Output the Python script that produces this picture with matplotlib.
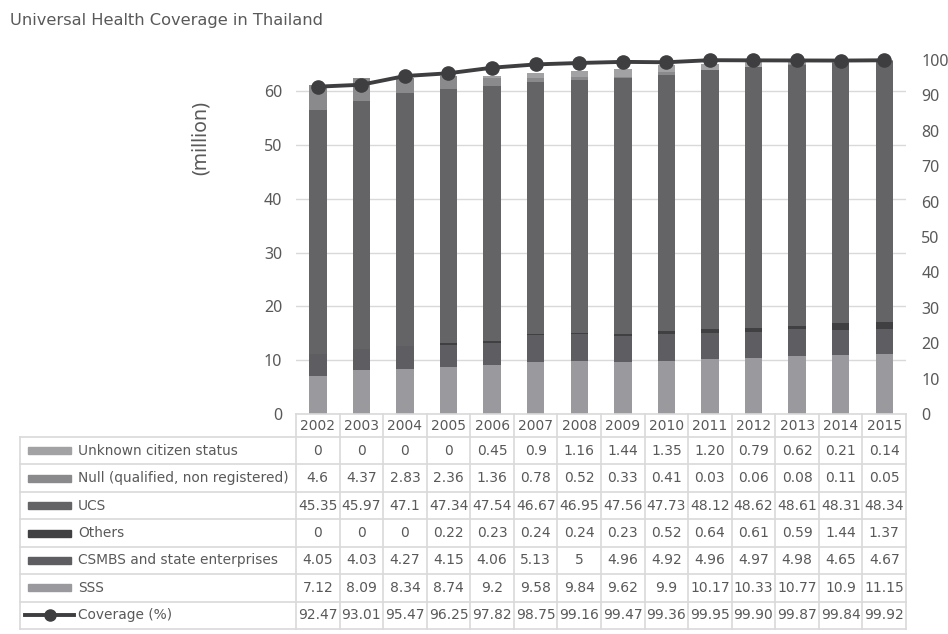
import matplotlib
matplotlib.use("Agg")
import matplotlib.pyplot as plt
import numpy as np
from matplotlib.lines import Line2D
from matplotlib.patches import Rectangle

years = [str(y) for y in range(2002, 2016)]

# values as printed in the data table
unknown_txt = ["0", "0", "0", "0", "0.45", "0.9", "1.16", "1.44", "1.35", "1.20", "0.79", "0.62", "0.21", "0.14"]
null_txt = ["4.6", "4.37", "2.83", "2.36", "1.36", "0.78", "0.52", "0.33", "0.41", "0.03", "0.06", "0.08", "0.11", "0.05"]
ucs_txt = ["45.35", "45.97", "47.1", "47.34", "47.54", "46.67", "46.95", "47.56", "47.73", "48.12", "48.62", "48.61", "48.31", "48.34"]
others_txt = ["0", "0", "0", "0.22", "0.23", "0.24", "0.24", "0.23", "0.52", "0.64", "0.61", "0.59", "1.44", "1.37"]
csmbs_txt = ["4.05", "4.03", "4.27", "4.15", "4.06", "5.13", "5", "4.96", "4.92", "4.96", "4.97", "4.98", "4.65", "4.67"]
sss_txt = ["7.12", "8.09", "8.34", "8.74", "9.2", "9.58", "9.84", "9.62", "9.9", "10.17", "10.33", "10.77", "10.9", "11.15"]
coverage_txt = ["92.47", "93.01", "95.47", "96.25", "97.82", "98.75", "99.16", "99.47", "99.36", "99.95", "99.90", "99.87", "99.84", "99.92"]

series_names = ["Unknown citizen status", "Null (qualified, non registered)", "UCS",
                "Others", "CSMBS and state enterprises", "SSS"]
series_txt = [unknown_txt, null_txt, ucs_txt, others_txt, csmbs_txt, sss_txt]
series_colors = ["#a2a2a5", "#8a8a8d", "#646467", "#404042", "#5e5e62", "#9a9a9e"]
line_color = "#3e3e41"
text_color = "#595959"
grid_color = "#d9d9d9"
axis_font = "Noto Sans"

W, H = 948, 634
fig = plt.figure(figsize=(W / 100, H / 100), dpi=100)


def fx(px):
    return px / W


def fy(py):
    return 1 - py / H


# plot area in pixels
x0, x1 = 296, 906
ytop, ybot = 60, 414
ax = fig.add_axes([fx(x0), fy(ybot), fx(x1) - fx(x0), fy(ytop) - fy(ybot)])
ax2 = ax.twinx()

n = len(years)
idx = np.arange(n)
bottom = np.zeros(n)
# stack from bottom (SSS) to top (Unknown)
for name, txt, col in reversed(list(zip(series_names, series_txt, series_colors))):
    vals = np.array([float(v) for v in txt])
    ax.bar(idx, vals, 0.4, bottom=bottom, color=col, zorder=3)
    bottom += vals

coverage = [float(v) for v in coverage_txt]
ax2.plot(idx, coverage, color=line_color, lw=2.8, marker="o", ms=9.5, zorder=5, clip_on=False)

ax.set_xlim(-0.5, n - 0.5)
ax.set_ylim(0, 65.8)
ax.set_yticks(range(0, 70, 10))
ax2.set_ylim(0, 100)
ax2.set_yticks(range(0, 110, 10))
ax.set_xticks([])
ax.yaxis.grid(True, color=grid_color, lw=1.0, zorder=0)
for a in (ax, ax2):
    for s in a.spines.values():
        s.set_visible(False)
    a.tick_params(length=0, labelcolor=text_color, labelsize=11.5, labelfontfamily=axis_font)
ax.tick_params(axis="y", pad=10)
ax2.tick_params(axis="y", pad=11)

fig.text(fx(10), fy(20), "Universal Health Coverage in Thailand", fontsize=11.7,
         color=text_color, ha="left", va="center")
fig.text(fx(201), fy(138), "(million)", fontsize=14, family=axis_font, color=text_color,
         rotation=90, ha="center", va="center")

# data table
col_w = (x1 - x0) / n
head_top, head_bot = 414, 437
row_h = (629 - 437) / 7
lab_left = 20


def hline(xa, xb, y):
    fig.add_artist(Line2D([fx(xa), fx(xb)], [fy(y), fy(y)], color=grid_color, lw=1.2))


def vline(x, ya, yb):
    fig.add_artist(Line2D([fx(x), fx(x)], [fy(ya), fy(yb)], color=grid_color, lw=1.2))


hline(x0, x1, head_top)
for i, yr in enumerate(years):
    fig.text(fx(x0 + (i + 0.5) * col_w), fy((head_top + head_bot) / 2), yr,
             fontsize=10, color=text_color, ha="center", va="center")

rows = list(zip(series_names, series_txt, series_colors)) + [("Coverage (%)", coverage_txt, None)]
table_bot = head_bot + row_h * len(rows)
for r in range(len(rows) + 1):
    hline(lab_left, x1, head_bot + r * row_h)
vline(lab_left, head_bot, table_bot)
for i in range(n + 1):
    vline(x0 + i * col_w, head_top, table_bot)

for r, (name, txt, col) in enumerate(rows):
    yc = head_bot + (r + 0.5) * row_h
    if col is not None:
        fig.add_artist(Rectangle((fx(28), fy(yc + 3.5)), fx(71) - fx(28), fy(yc - 3.5) - fy(yc + 3.5),
                                 color=col, transform=fig.transFigure))
    else:
        fig.add_artist(Line2D([fx(25), fx(74)], [fy(yc), fy(yc)], color=line_color, lw=2.8))
        fig.add_artist(Line2D([fx(50)], [fy(yc)], color=line_color, marker="o", ms=8))
    fig.text(fx(78), fy(yc), name, fontsize=9.9, color=text_color, ha="left", va="center")
    for i, v in enumerate(txt):
        fig.text(fx(x0 + (i + 0.5) * col_w), fy(yc), v, fontsize=10, color=text_color,
                 ha="center", va="center")

fig.savefig("out.png", dpi=100)
